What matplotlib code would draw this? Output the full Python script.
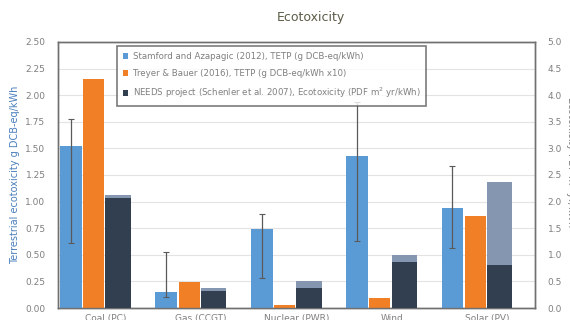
import numpy as np
import matplotlib.pyplot as plt

# technologies on the x axis
techs = ['Coal (PC)', 'Gas (CCGT)', 'Nuclear (PWR)', 'Wind', 'Solar (PV)']

# Stamford and Azapagic (2012), TETP g DCB-eq/kWh, with min/max range
stamford = [1.52, 0.15, 0.74, 1.43, 0.94]
stamford_lo = [0.61, 0.10, 0.28, 0.63, 0.56]
stamford_hi = [1.78, 0.53, 0.88, 1.94, 1.33]

# Treyer & Bauer (2016), TETP g DCB-eq/kWh x10
treyer = [2.15, 0.245, 0.03, 0.09, 0.865]

# NEEDS project, PDF m2 yr/kWh (right axis): base value and upper value
needs = [2.06, 0.32, 0.38, 0.86, 0.80]
needs_hi = [2.12, 0.38, 0.50, 1.00, 2.37]

c_blue = '#5b9bd5'
c_orange = '#f07f26'
c_dark = '#323f50'
c_light = '#8496b0'
c_txt = '#7f7f7f'

fig = plt.figure(figsize=(5.7, 3.2), dpi=100)
ax = fig.add_axes([0.1018, 0.0375, 0.8368, 0.8315])
ax2 = ax.twinx()

x = np.arange(len(techs))

err = [np.array(stamford) - np.array(stamford_lo),
       np.array(stamford_hi) - np.array(stamford)]
b1 = ax.bar(x - 0.365, stamford, 0.23, color=c_blue, zorder=3,
            label='Stamford and Azapagic (2012), TETP (g DCB-eq/kWh)')
ax.errorbar(x - 0.365, stamford, yerr=err, fmt='none', ecolor='#5a5a5a',
            elinewidth=0.9, capsize=2, capthick=0.8, zorder=4)
b2 = ax.bar(x - 0.125, treyer, 0.22, color=c_orange, zorder=3,
            label='Treyer & Bauer (2016), TETP (g DCB-eq/kWh x10)')

ax2.bar(x + 0.13, needs_hi, 0.265, color=c_light, zorder=3)
b3 = ax2.bar(x + 0.13, needs, 0.265, color=c_dark, zorder=3,
             label='NEEDS project (Schenler et al. 2007), Ecotoxicity (PDF m$^2$ yr/kWh)')

ax.set_xlim(-0.5, 4.5)
ax.set_ylim(0, 2.5)
ax2.set_ylim(0, 5.0)
ax.set_yticks(np.arange(0, 2.51, 0.25))
ax.set_yticklabels(['%.2f' % v for v in np.arange(0, 2.51, 0.25)])
ax2.set_yticks(np.arange(0, 5.01, 0.5))
ax2.set_yticklabels(['%.1f' % v for v in np.arange(0, 5.01, 0.5)])
ax.set_xticks(x)
ax.set_xticklabels(techs)

ax.grid(axis='y', color='#e3e3e3', linewidth=0.8, zorder=0)
ax.set_axisbelow(True)

for a in (ax, ax2):
    a.tick_params(length=0, labelsize=6.5, labelcolor=c_txt, pad=9)
    for s in a.spines.values():
        s.set_color('#707070')
        s.set_linewidth(1.0)
ax.tick_params(axis='x', pad=4)

ax.set_ylabel('Terrestrial ecotoxicity g DCB-eq/kWh', fontsize=7,
              color='#4a7ebb')
ax.yaxis.set_label_coords(-0.08, 0.5)
ax2.set_ylabel('Ecotoxicity PDF m$^2$ yr/kWh', fontsize=7, color=c_txt,
               rotation=270, va='center')
ax2.yaxis.set_label_coords(1.075, 0.55)

fig.text(0.545, 0.945, 'Ecotoxicity', ha='center', va='center',
         fontsize=9, color='#5c5c48')

leg = ax.legend(handles=[b1, b2, b3], loc='upper left',
                bbox_to_anchor=(0.115, 1.0), fontsize=6.2, frameon=True,
                fancybox=False, handlelength=0.6, handleheight=0.6,
                handletextpad=0.5, labelspacing=0.9, borderpad=0.7,
                labelcolor=c_txt)
leg.get_frame().set_edgecolor('#5a5a5a')
leg.get_frame().set_linewidth(1.2)
leg.set_zorder(10)

fig.savefig('out.png', dpi=100)
